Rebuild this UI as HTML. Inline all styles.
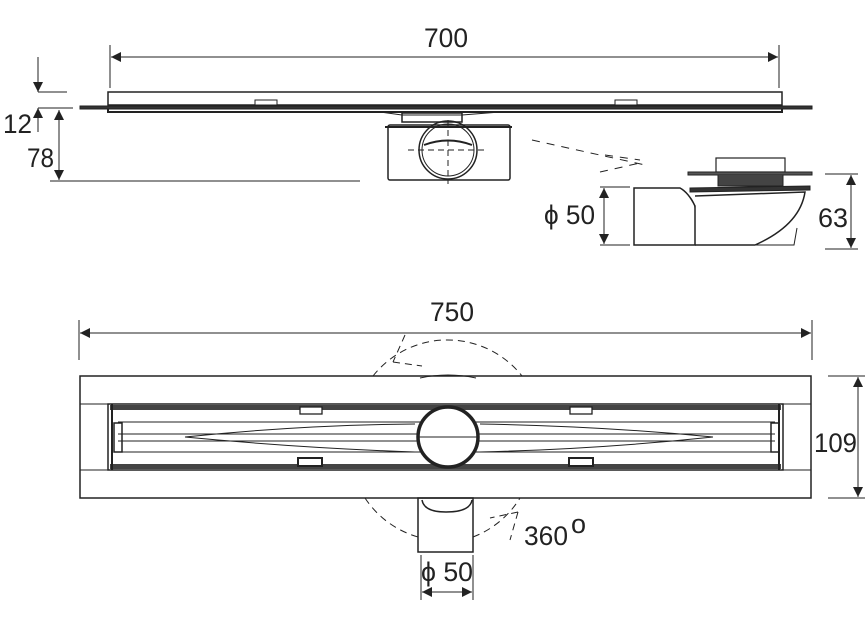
<!DOCTYPE html>
<html><head><meta charset="utf-8"><style>
html,body{margin:0;padding:0;background:#fff;}
svg{display:block}
text{font-family:"Liberation Sans",sans-serif;fill:#222;font-size:27px}
</style></head><body>
<svg width="867" height="618" viewBox="0 0 867 618" xmlns="http://www.w3.org/2000/svg">
<defs>
<marker id="a" viewBox="0 0 10 10" refX="10" refY="5" markerWidth="10" markerHeight="10" orient="auto-start-reverse" markerUnits="userSpaceOnUse"><path d="M0,0 L10,5 L0,10z" fill="#222"/></marker>
</defs>
<g stroke="#222" fill="none" stroke-width="1">
<line x1="110" y1="45" x2="110" y2="88"/><line x1="779" y1="45" x2="779" y2="88"/>
<line x1="111" y1="57" x2="778" y2="57" marker-start="url(#a)" marker-end="url(#a)"/>
<line x1="38" y1="57" x2="38" y2="88"/>
<rect x="108" y="92" width="674" height="13" stroke-width="1.5"/>
<path d="M80,106 L812,106 L812,109 L80,109z" fill="#333"/>
<path d="M108,109 L108,112 L782,112 L782,109" stroke-width="2"/>
<rect x="255" y="100" width="22" height="5" fill="#fff"/>
<rect x="615" y="100" width="22" height="5" fill="#fff"/>
<path d="M380,112 L402,115 L462,115 L500,112" />
<rect x="402" y="113" width="60" height="9" stroke-width="1.5"/>
<rect x="388" y="125" width="122" height="55" rx="2" stroke-width="1.5"/>
<line x1="385" y1="127" x2="512" y2="127" stroke-width="2"/>
<circle cx="448" cy="150" r="29" stroke-width="1.5"/>
<circle cx="448" cy="150" r="26"/>
<path d="M424,145 Q448,136 472,145" stroke-width="2"/>
<line x1="408" y1="150" x2="488" y2="150" stroke-dasharray="6,4"/>
<line x1="448" y1="120" x2="448" y2="184" stroke-dasharray="6,4"/>
<line x1="38" y1="92" x2="67" y2="92"/><line x1="38" y1="108" x2="73" y2="108"/>
<line x1="38" y1="70" x2="38" y2="92" marker-end="url(#a)"/>
<line x1="38" y1="132" x2="38" y2="108" marker-end="url(#a)"/>
<line x1="59" y1="110" x2="59" y2="180" marker-start="url(#a)" marker-end="url(#a)"/>
<line x1="50" y1="181" x2="360" y2="181"/>
<g stroke-dasharray="8,7">
<line x1="532" y1="140" x2="645" y2="165"/>
<line x1="605" y1="155" x2="640" y2="160"/>
<line x1="600" y1="172" x2="640" y2="163"/>
</g>
<rect x="716" y="158" width="69" height="14" stroke-width="1.2"/>
<rect x="688" y="172" width="124" height="3" fill="#555"/>
<path d="M718,175 L718,186 L783,186 L783,175" fill="#444" stroke-width="1"/>
<path d="M690,188 L810,186 L810,190 L690,192z" fill="#333"/>
<path d="M634,188 L680,188 Q688,192 695,206 L695,245 L634,245z" stroke-width="1.5"/>
<path d="M680,188 Q694,198 695,208"/>
<path d="M695,196 L805,192 Q800,225 755,245 L695,245" stroke-width="1.5"/>
<path d="M755,245 L794,245 L797,228"/>
<line x1="600" y1="187" x2="630" y2="187"/><line x1="600" y1="245" x2="630" y2="245"/>
<line x1="604" y1="188" x2="604" y2="244" marker-start="url(#a)" marker-end="url(#a)"/>
<line x1="825" y1="174" x2="858" y2="174"/><line x1="825" y1="249" x2="858" y2="249"/>
<line x1="851" y1="175" x2="851" y2="248" marker-start="url(#a)" marker-end="url(#a)"/>
<line x1="79" y1="320" x2="79" y2="360"/><line x1="812" y1="320" x2="812" y2="360"/>
<line x1="80" y1="333" x2="811" y2="333" marker-start="url(#a)" marker-end="url(#a)"/>
<g stroke-dasharray="7,5">
<path d="M373,376 A95,95 0 0 1 522,376"/>
<path d="M365,498 A95,95 0 0 0 418,537"/>
<path d="M473,537 A95,95 0 0 0 520,498"/>
<line x1="405" y1="335" x2="393" y2="362"/><line x1="393" y1="362" x2="422" y2="366"/>
<line x1="518" y1="512" x2="490" y2="518"/><line x1="518" y1="512" x2="510" y2="540"/>
</g>
<rect x="80" y="376" width="731" height="122" stroke-width="1.5"/>
<rect x="108" y="404" width="675" height="66" stroke-width="1.5"/>
<line x1="80" y1="404" x2="108" y2="404"/><line x1="80" y1="470" x2="108" y2="470"/>
<line x1="783" y1="404" x2="811" y2="404"/><line x1="783" y1="470" x2="811" y2="470"/>
<rect x="110" y="405" width="671" height="5" fill="#444" stroke="none"/>
<rect x="110" y="464" width="671" height="5" fill="#444" stroke="none"/>
<line x1="112" y1="404" x2="112" y2="470" stroke-width="2"/>
<line x1="779" y1="404" x2="779" y2="470" stroke-width="2"/>
<line x1="118" y1="422" x2="775" y2="422"/><line x1="118" y1="452" x2="775" y2="452"/>
<line x1="118" y1="434" x2="775" y2="434"/><line x1="118" y1="441" x2="775" y2="441"/>
<rect x="114" y="423" width="8" height="29" stroke-width="1.5"/>
<rect x="771" y="423" width="8" height="29" stroke-width="1.5"/>
<path d="M185,437 Q300,425 415,424 M185,437 Q300,448 415,452"/>
<path d="M480,424 Q600,426 713,437 M480,452 Q600,449 713,437"/>
<rect x="300" y="407" width="22" height="7" fill="#fff" stroke-width="1.3"/>
<rect x="570" y="407" width="22" height="7" fill="#fff" stroke-width="1.3"/>
<rect x="298" y="458" width="24" height="8" fill="#fff" stroke-width="2"/>
<rect x="569" y="458" width="24" height="8" fill="#fff" stroke-width="2"/>
<circle cx="448" cy="437" r="30" fill="#fff" stroke-width="3.5"/>
<line x1="418" y1="437" x2="478" y2="437"/>
<path d="M420,378 Q448,372 476,378"/>
<rect x="418" y="498" width="55" height="54" stroke-width="1.5"/>
<path d="M422,500 Q424,512 446,512 Q470,512 472,500" stroke-width="1.5"/>
<line x1="828" y1="376" x2="865" y2="376"/><line x1="828" y1="498" x2="865" y2="498"/>
<line x1="858" y1="377" x2="858" y2="497" marker-start="url(#a)" marker-end="url(#a)"/>
<line x1="421" y1="555" x2="421" y2="600"/><line x1="473" y1="555" x2="473" y2="600"/>
<line x1="422" y1="592" x2="472" y2="592" marker-start="url(#a)" marker-end="url(#a)"/>
</g>
<text x="424" y="47" textLength="44" lengthAdjust="spacingAndGlyphs">700</text>
<text x="3" y="133" textLength="29" lengthAdjust="spacingAndGlyphs">12</text>
<text x="27" y="167" textLength="27" lengthAdjust="spacingAndGlyphs">78</text>
<text x="544" y="224" textLength="51" lengthAdjust="spacingAndGlyphs">ϕ 50</text>
<text x="818" y="227" textLength="30" lengthAdjust="spacingAndGlyphs">63</text>
<text x="430" y="321" textLength="44" lengthAdjust="spacingAndGlyphs">750</text>
<text x="814" y="452" textLength="43" lengthAdjust="spacingAndGlyphs">109</text>
<text x="524" y="545" textLength="44" lengthAdjust="spacingAndGlyphs">360</text>
<text x="571" y="533" font-size="16">o</text>
<text x="421" y="581" textLength="52" lengthAdjust="spacingAndGlyphs">ϕ 50</text>
</svg>
</body></html>
